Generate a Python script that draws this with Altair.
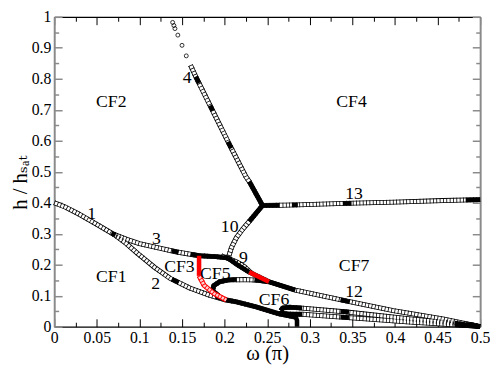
import altair as alt
import pandas as pd

FONT = "Liberation Serif, Times New Roman, DejaVu Serif, serif"
W, H = 433, 315

# ---------------- data ----------------
# open-circle chains
line1_3_12_x = [0.000, 0.013, 0.030, 0.050, 0.070, 0.085, 0.100, 0.121, 0.144, 0.170, 0.190, 0.204, 0.215, 0.229, 0.252, 0.283, 0.341, 0.398, 0.456, 0.500]
line1_3_12_y = [0.400, 0.386, 0.362, 0.330, 0.298, 0.282, 0.268, 0.255, 0.241, 0.229, 0.226, 0.222, 0.200, 0.176, 0.145, 0.118, 0.084, 0.052, 0.025, 0.000]
line2_x = [0.070, 0.083, 0.098, 0.118, 0.136, 0.159, 0.182, 0.202, 0.214, 0.237, 0.263, 0.283]
line2_y = [0.298, 0.272, 0.236, 0.191, 0.156, 0.125, 0.102, 0.086, 0.080, 0.064, 0.042, 0.031]
line4_x = [0.160, 0.167, 0.182, 0.206, 0.225, 0.229, 0.2445]
line4_y = [0.844, 0.802, 0.719, 0.586, 0.484, 0.468, 0.391]
line4_sparse_x = [0.139, 0.1405, 0.1417, 0.1451, 0.150, 0.155]
line4_sparse_y = [0.982, 0.972, 0.962, 0.941, 0.908, 0.874]
line10_x = [0.2445, 0.229, 0.221, 0.214, 0.208, 0.205]
line10_y = [0.391, 0.340, 0.314, 0.288, 0.255, 0.228]
line13_x = [0.2445, 0.265, 0.285, 0.341, 0.400, 0.456, 0.500]
line13_y = [0.391, 0.392, 0.393, 0.398, 0.402, 0.407, 0.410]
line9_x = [0.196, 0.206, 0.215, 0.224, 0.231]
line9_y = [0.229, 0.218, 0.208, 0.192, 0.174]
cf5_loop_x = [0.193, 0.186, 0.187, 0.194, 0.205, 0.225, 0.240, 0.252]
cf5_loop_y = [0.100, 0.115, 0.132, 0.145, 0.151, 0.152, 0.150, 0.145]
cf6_upper_x = [0.266, 0.268, 0.276, 0.291, 0.341, 0.418, 0.491, 0.500]
cf6_upper_y = [0.052, 0.060, 0.063, 0.060, 0.048, 0.025, 0.006, 0.000]
cf6_lower_x = [0.266, 0.268, 0.276, 0.291, 0.341, 0.418, 0.491, 0.500]
cf6_lower_y = [0.052, 0.043, 0.040, 0.040, 0.030, 0.015, 0.003, 0.000]

# densely packed (solid-looking) stretches
dense_segments = [
    ([0.067, 0.072], [0.302, 0.296]),
    ([0.138, 0.146], [0.245, 0.240]),
    ([0.160, 0.172, 0.190, 0.204], [0.234, 0.229, 0.226, 0.222]),
    ([0.204, 0.215, 0.229], [0.222, 0.200, 0.176]),
    ([0.252, 0.283], [0.145, 0.118]),
    ([0.336, 0.347], [0.087, 0.080]),
    ([0.485, 0.500], [0.008, 0.000]),
    ([0.190, 0.202, 0.214, 0.237, 0.263, 0.283], [0.096, 0.086, 0.080, 0.064, 0.042, 0.031]),
    ([0.138, 0.146], [0.153, 0.143]),
    ([0.166, 0.170], [0.807, 0.786]),
    ([0.183, 0.186], [0.714, 0.697]),
    ([0.204, 0.208], [0.597, 0.576]),
    ([0.229, 0.2445], [0.468, 0.391]),
    ([0.2445, 0.229], [0.391, 0.340]),
    ([0.2445, 0.264], [0.391, 0.392]),
    ([0.279, 0.286], [0.393, 0.393]),
    ([0.339, 0.349], [0.398, 0.398]),
    ([0.483, 0.500], [0.409, 0.410]),
    ([0.193, 0.186, 0.187, 0.194, 0.205, 0.214], [0.100, 0.115, 0.132, 0.145, 0.151, 0.152]),
    ([0.235, 0.252], [0.151, 0.145]),
    ([0.266, 0.268, 0.276, 0.291], [0.052, 0.060, 0.063, 0.060]),
    ([0.266, 0.268, 0.276, 0.291], [0.052, 0.043, 0.040, 0.040]),
    ([0.276, 0.283, 0.285, 0.285], [0.042, 0.036, 0.020, 0.000]),
    ([0.336, 0.346], [0.049, 0.047]),
    ([0.336, 0.346], [0.031, 0.029]),
    ([0.470, 0.500], [0.012, 0.000]),
    ([0.470, 0.500], [0.006, 0.000]),
]

# red stretches
red_solid_segments = [
    ([0.170, 0.170], [0.229, 0.164]),
    ([0.229, 0.252], [0.176, 0.145]),
]
red_chain_x = [0.170, 0.176, 0.187, 0.202]
red_chain_y = [0.164, 0.133, 0.108, 0.086]

# labels
label_text = ["CF1", "CF2", "CF3", "CF4", "CF5", "CF6", "CF7",
              "1", "2", "3", "4", "9", "10", "12", "13"]
label_x = [0.067, 0.067, 0.147, 0.349, 0.189, 0.258, 0.352,
           0.044, 0.119, 0.120, 0.156, 0.222, 0.206, 0.352, 0.352]
label_y = [0.160, 0.725, 0.191, 0.725, 0.170, 0.087, 0.195,
           0.365, 0.139, 0.283, 0.802, 0.221, 0.321, 0.113, 0.427]

x_major = [0, 0.05, 0.1, 0.15, 0.2, 0.25, 0.3, 0.35, 0.4, 0.45, 0.5]
x_minor = [0.025, 0.075, 0.125, 0.175, 0.225, 0.275, 0.325, 0.375, 0.425, 0.475]
y_major = [0, 0.1, 0.2, 0.3, 0.4, 0.5, 0.6, 0.7, 0.8, 0.9, 1]
y_minor = [0.05, 0.15, 0.25, 0.35, 0.45, 0.55, 0.65, 0.75, 0.85, 0.95]

# ---------------- build tables ----------------
def table(named):
    rows = []
    for name, xs, ys in named:
        for i, (a, b) in enumerate(zip(xs, ys)):
            rows.append({"x": a, "y": b, "seg": name, "i": i})
    return pd.DataFrame(rows)

open_df = table([
    ("l1312", line1_3_12_x, line1_3_12_y),
    ("l2", line2_x, line2_y),
    ("l4", line4_x, line4_y),
    ("l10", line10_x, line10_y),
    ("l13", line13_x, line13_y),
    ("l9", line9_x, line9_y),
    ("cf5", cf5_loop_x, cf5_loop_y),
    ("cf6u", cf6_upper_x, cf6_upper_y),
    ("cf6l", cf6_lower_x, cf6_lower_y),
])
dense_df = table([(f"d{k}", s[0], s[1]) for k, s in enumerate(dense_segments)])
red_df = table([(f"r{k}", s[0], s[1]) for k, s in enumerate(red_solid_segments)])
red_chain_df = table([("rc", red_chain_x, red_chain_y)])
sparse_df = pd.DataFrame({"x": line4_sparse_x, "y": line4_sparse_y})
label_df = pd.DataFrame({"x": label_x, "y": label_y, "t": label_text})

XS = alt.Scale(domain=[0, 0.5], nice=False, zero=False)
YS = alt.Scale(domain=[0, 1], nice=False, zero=False)


def pos(xaxis=None, yaxis=None):
    return dict(x=alt.X("x:Q", scale=XS, axis=xaxis), y=alt.Y("y:Q", scale=YS, axis=yaxis))


def lines(df, color, width, dash=None):
    kw = dict(color=color, strokeWidth=width, strokeJoin="round", strokeCap="butt")
    if dash:
        kw["strokeDash"] = dash
    return alt.Chart(df).mark_line(**kw).encode(detail="seg:N", order="i:Q", **pos())


# ---------------- axes (mirror axes, inward ticks) ----------------
dummy = pd.DataFrame({"x": [0.0], "y": [0.0]})
GREY = "#8a8a8a"


def axis_layer(xa, ya):
    return alt.Chart(dummy).mark_point(opacity=0).encode(**pos(xa, ya))


ax_main = axis_layer(
    alt.Axis(orient="bottom", values=x_major, format="~g", ticks=False, tickSize=0,
             labelPadding=3, labelFont=FONT, labelFontSize=16, labelColor="black",
             labelFlush=False, labelOverlap=False, domain=True, domainColor="black",
             domainWidth=1.3, grid=False, title="ω (π)", titleFont=FONT, titleFontSize=21,
             titleFontWeight="normal", titleColor="black", titleY=33, titleBaseline="alphabetic"),
    alt.Axis(orient="left", values=y_major, format="~g", ticks=False, tickSize=0,
             labelPadding=3.5, labelFont=FONT, labelFontSize=16, labelColor="black",
             labelOverlap=False, domain=True, domainColor=GREY, domainWidth=2, grid=False,
             title="h / hₛₐₜ", titleFont=FONT, titleFontSize=21, titleFontWeight="normal",
             titleColor="black", titleX=-28, titleY=168, titleAngle=270,
             titleBaseline="alphabetic", titleAlign="center"),
)


def tick_axes(xvals, yvals, size, xorient, yorient, domain=False):
    return axis_layer(
        alt.Axis(orient=xorient, offset=-H, values=xvals, labels=False, domain=domain,
                 domainColor="black", domainWidth=1.3, ticks=True, tickSize=size,
                 tickColor="black", tickWidth=1, grid=False, title=None),
        alt.Axis(orient=yorient, offset=-W, values=yvals, labels=False, domain=domain,
                 domainColor=GREY, domainWidth=2, ticks=True, tickSize=size,
                 tickColor=GREY, tickWidth=1.5, grid=False, title=None),
    )


ax_in_major = tick_axes(x_major, y_major, 8, "top", "right")
ax_in_minor = tick_axes(x_minor, y_minor, 4.5, "top", "right")
ax_top_major = tick_axes(x_major, y_major, 8, "bottom", "left", domain=True)
ax_top_minor = tick_axes(x_minor, y_minor, 4.5, "bottom", "left")

# ---------------- marks ----------------
band = lines(open_df, "black", 5)
hollow = lines(open_df, "white", 3.4)
bars = lines(open_df, "black", 5, dash=[0.8, 2.6])
red_band = lines(red_chain_df, "#ff0000", 5)
red_hollow = lines(red_chain_df, "#ffd0d0", 3.0)
red_bars = lines(red_chain_df, "#ff0000", 5, dash=[0.9, 2.3])
dense = lines(dense_df, "black", 4.6)
red = lines(red_df, "#ff0000", 4.6)
sparse = alt.Chart(sparse_df).mark_point(shape="circle", size=16, filled=False,
                                         color="black", strokeWidth=0.8, opacity=1).encode(**pos())
labels = alt.Chart(label_df).mark_text(font=FONT, fontSize=18, color="black",
                                       align="center", baseline="middle").encode(text="t:N", **pos())

chart = alt.layer(
    ax_main, ax_in_major, ax_in_minor, ax_top_major, ax_top_minor,
    band, hollow, bars, sparse, dense, red_band, red_hollow, red_bars, red, labels,
).properties(
    width=W, height=H,
    padding={"left": 47, "top": 6, "right": 10, "bottom": 37},
    autosize=alt.AutoSizeParams(type="none"),
).configure_view(stroke=None)

chart.save("out.html", embed_options={"renderer": "svg", "actions": False})
